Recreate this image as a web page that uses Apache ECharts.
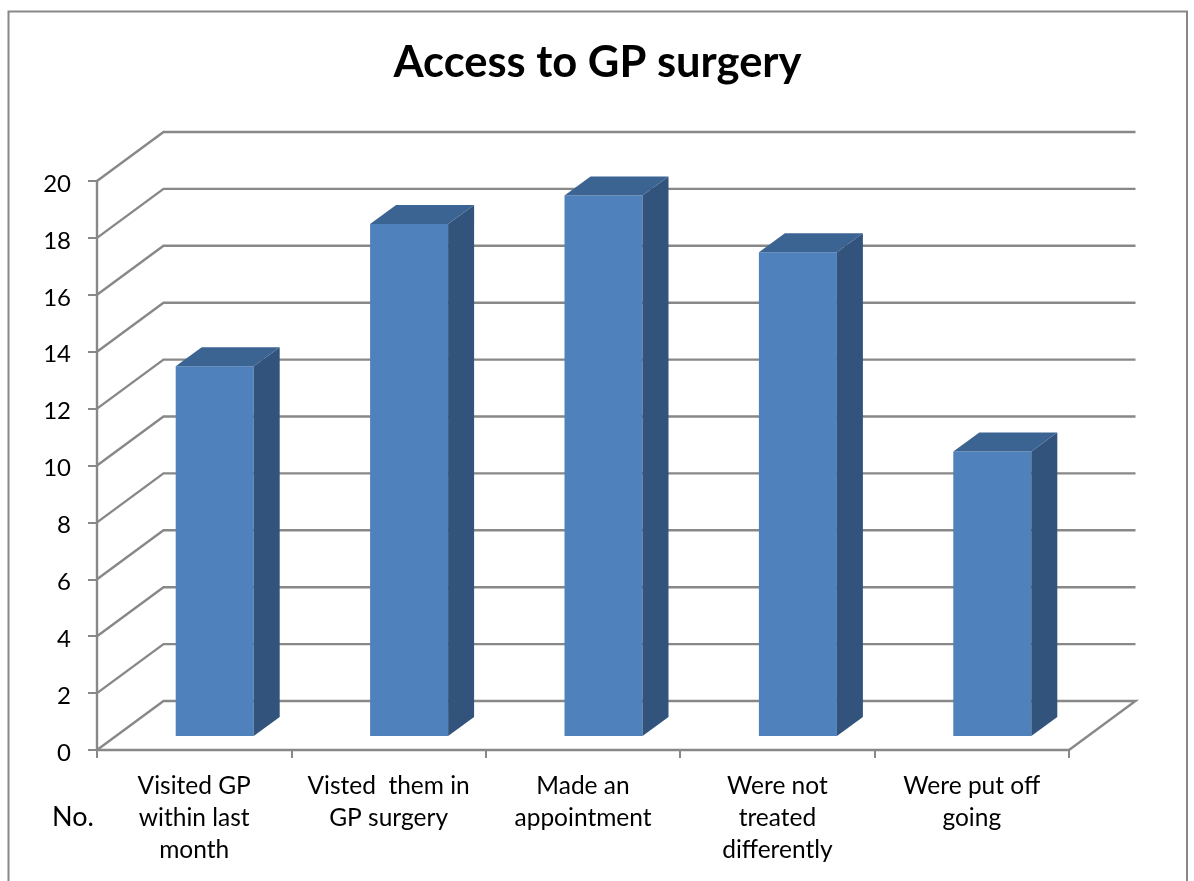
<!DOCTYPE html>
<html>
<head>
<meta charset="utf-8">
<style>html,body{margin:0;padding:0;background:#fff}#c{width:1194px;height:881px}</style>
<script src="https://cdn.jsdelivr.net/npm/echarts@6/dist/echarts.min.js"></script>
</head>
<body>
<div id="c"></div>
<script>
const titleText = 'Access to GP surgery';
const categories = ['Visited GP\nwithin last\nmonth', 'Visted  them in\nGP surgery', 'Made an\nappointment', 'Were not\ntreated\ndifferently', 'Were put off\ngoing'];
const values = [13, 18, 19, 17, 10];
const yTicks = [0, 2, 4, 6, 8, 10, 12, 14, 16, 18, 20];
const yAxisName = 'No.';

const AXIS = '#888888';
const LINE_W = 2.4;
const FONT = 'Lato, Carlito, "Open Sans", sans-serif';
const WALL_DX = 66.5, WALL_DY = -49;
const BAR_DX = 20.5, BAR_DY = -14, BAR_HALF = 39;
const SIDE_DX = 26, SIDE_DY = -19;

const chart = echarts.init(document.getElementById('c'), null, {renderer: 'canvas'});

function wallItem(params, api) {
  const v = api.value(0);
  const p = api.coord([0, v]);
  const band = api.size([1, 0])[0];
  const left = p[0] - band / 2;
  const right = left + band * categories.length;
  const y = p[1];
  const pts = [[left, y], [left + WALL_DX, y + WALL_DY], [right + WALL_DX, y + WALL_DY]];
  if (v === 0) pts.push([right, y]);
  return {
    type: 'polyline',
    shape: {points: pts},
    style: {stroke: AXIS, lineWidth: LINE_W, fill: null}
  };
}

function barItem(params, api) {
  const top = api.coord([api.value(0), api.value(1)]);
  const base = api.coord([api.value(0), 0]);
  const x0 = top[0] + BAR_DX - BAR_HALF, x1 = top[0] + BAR_DX + BAR_HALF;
  const yt = top[1] + BAR_DY, yb = base[1] + BAR_DY;
  return {
    type: 'group',
    children: [
      {type: 'polygon', shape: {points: [[x0, yt], [x1, yt], [x1, yb], [x0, yb]]}, style: {fill: '#4f81bd'}},
      {type: 'polygon', shape: {points: [[x1, yt], [x1 + SIDE_DX, yt + SIDE_DY], [x1 + SIDE_DX, yb + SIDE_DY], [x1, yb]]}, style: {fill: '#32537b'}},
      {type: 'polygon', shape: {points: [[x0, yt], [x0 + SIDE_DX, yt + SIDE_DY], [x1 + SIDE_DX, yt + SIDE_DY], [x1, yt]]}, style: {fill: '#3b6493'}}
    ]
  };
}

chart.setOption({
  animation: false,
  backgroundColor: '#fff',
  title: {
    text: titleText, left: 597.5, top: 41, textAlign: 'center', padding: 0,
    textStyle: {fontFamily: FONT, fontSize: 43.5, fontWeight: 'bold', color: '#000'}
  },
  grid: {left: 97, top: 181, width: 972, height: 569, containLabel: false},
  xAxis: {
    type: 'category', data: categories, boundaryGap: true,
    axisLine: {show: true, onZero: false, lineStyle: {color: AXIS, width: LINE_W}},
    axisTick: {show: true, alignWithLabel: false, length: 8, inside: false, lineStyle: {color: AXIS, width: 2}},
    axisLabel: {interval: 0, margin: 20, lineHeight: 32, fontFamily: FONT, fontSize: 24.5, color: '#000', verticalAlign: 'top'},
    splitLine: {show: false}
  },
  yAxis: {
    type: 'value', min: 0, max: 20, interval: 2,
    axisLine: {show: true, lineStyle: {color: AXIS, width: LINE_W}},
    axisTick: {show: true, length: 9, lineStyle: {color: AXIS, width: 2}},
    axisLabel: {margin: 26, verticalAlign: 'top', lineHeight: 6, fontFamily: FONT, fontSize: 24, color: '#000'},
    splitLine: {show: false}
  },
  graphic: [
    {type: 'rect', silent: true, z: -1, shape: {x: 8.5, y: 11.5, width: 1178.5, height: 900},
      style: {fill: null, stroke: AXIS, lineWidth: 2}},
    {type: 'text', left: 52, top: 804, style: {text: yAxisName, fontFamily: FONT, fontSize: 27, fill: '#000'}}
  ],
  series: [
    {type: 'custom', name: 'walls', coordinateSystem: 'cartesian2d', clip: false, z: 1, silent: true,
      encode: {y: 0}, data: yTicks.map(v => [v]), renderItem: wallItem},
    {type: 'custom', name: 'No.', coordinateSystem: 'cartesian2d', clip: false, z: 3, silent: true,
      encode: {x: 0, y: 1}, data: values.map((v, i) => [i, v]), renderItem: barItem}
  ]
});
</script>
</body>
</html>
